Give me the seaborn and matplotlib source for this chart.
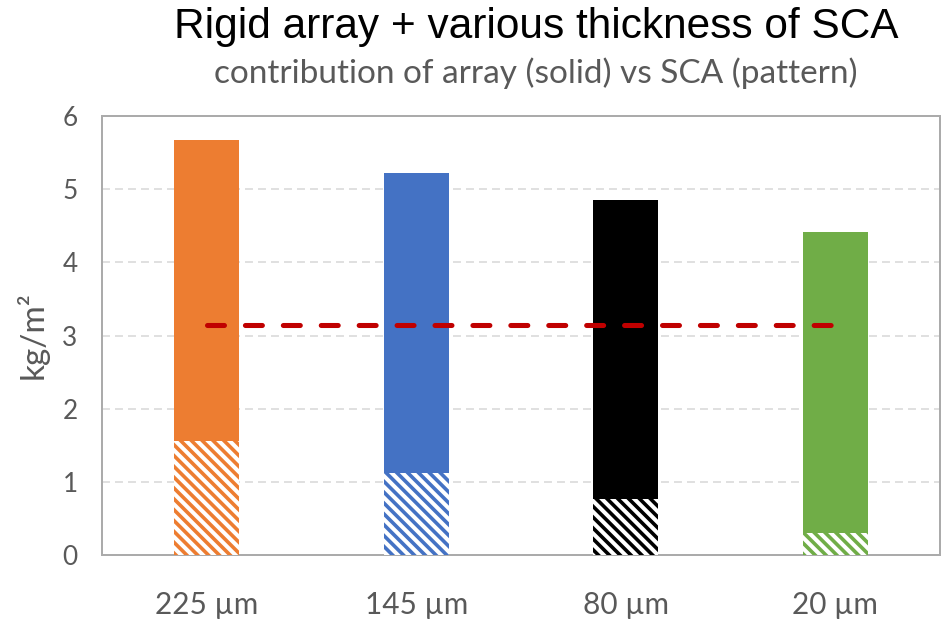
import matplotlib
matplotlib.use("Agg")
import matplotlib.pyplot as plt
import seaborn as sns
import pandas as pd

# ---- data ----
categories = ["225 µm", "145 µm", "80 µm", "20 µm"]
total_mass = [5.67, 5.22, 4.85, 4.41]      # array + SCA (kg/m²)
sca_mass = [1.56, 1.12, 0.77, 0.30]        # SCA contribution (kg/m²)
reference_level = [3.14, 3.14, 3.14, 3.14]
bar_colors = ["#ED7D31", "#4472C4", "#000000", "#70AD47"]

title = "Rigid array + various thickness of SCA"
subtitle = "contribution of array (solid) vs SCA (pattern)"
y_label = "kg/m²"
y_ticks = [0, 1, 2, 3, 4, 5, 6]

DPI = 130
sns.set_theme(style="white")
plt.rcParams["hatch.linewidth"] = 2.0
plt.rcParams["lines.scale_dashes"] = False
plt.rcParams["font.family"] = ["Lato", "DejaVu Sans"]

fig = plt.figure(figsize=(943 / DPI, 623 / DPI), dpi=DPI)
ax = fig.add_axes([102 / 943, 1 - 555 / 623, 838 / 943, 439 / 623])

df = pd.DataFrame({"cat": categories, "total": total_mass, "sca": sca_mass,
                   "ref": reference_level})
pal = dict(zip(categories, bar_colors))

sns.barplot(data=df, x="cat", y="total", hue="cat", palette=pal, width=0.31,
            legend=False, ax=ax, saturation=1, linewidth=0, zorder=2)
n_solid = len(ax.patches)
sns.barplot(data=df, x="cat", y="sca", hue="cat", palette=pal, width=0.31,
            legend=False, ax=ax, saturation=1, linewidth=0, zorder=3)
for p, c in zip(ax.patches[n_solid:], bar_colors):
    p.set_facecolor("white")
    p.set_edgecolor(c)
    p.set_hatch("\\" * 4)
    p.set_linewidth(0)

sns.lineplot(data=df, x="cat", y="ref", ax=ax, color="#C00000", lw=2.8,
             zorder=4, sort=False)
ln = ax.lines[-1]
ln.set_dashes([9.4, 11.6])
ln.set_dash_capstyle("round")

ax.set_xlim(-0.5, 3.5)
ax.set_ylim(0, 6)
ax.set_yticks(y_ticks)
ax.yaxis.grid(True, color="#D9D9D9", linestyle=(0, (4.4, 2.8)), linewidth=0.9, zorder=0)
ax.set_axisbelow(True)
for s in ax.spines.values():
    s.set_visible(True)
    s.set_color("#ABABAB")
    s.set_linewidth(1.1)

ax.tick_params(axis="both", length=0, labelcolor="#595959")
ax.tick_params(axis="y", pad=13.5, labelsize=14.5)
ax.tick_params(axis="x", pad=20, labelsize=16.5)
ax.set_xlabel("")
ax.set_ylabel(y_label, fontsize=18.5, color="#595959", labelpad=7.5)

fig.text(536 / 943, 1 - 27 / 623, title, ha="center", va="center",
         fontsize=23.5, family=["Liberation Sans", "DejaVu Sans"], color="black")
fig.text(536 / 943, 1 - 73 / 623, subtitle, ha="center", va="center",
         fontsize=18.5, color="#595959")

fig.savefig("out.png", dpi=DPI)
